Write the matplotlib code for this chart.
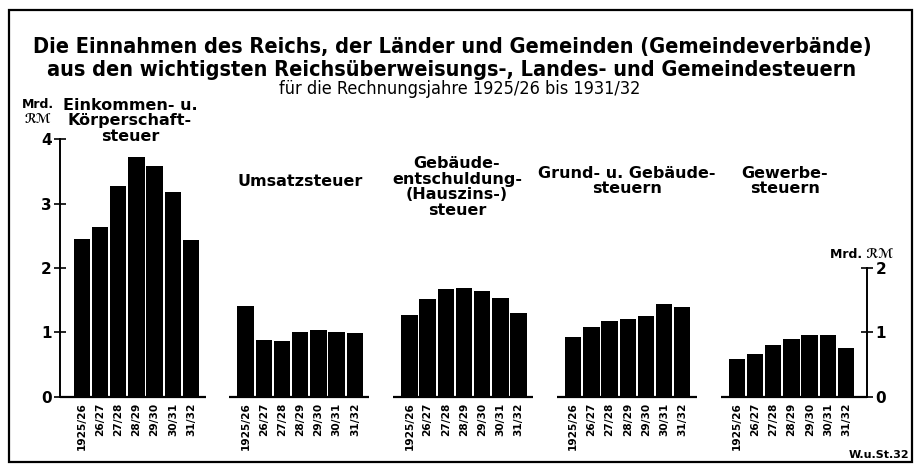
import matplotlib.pyplot as plt
import matplotlib.patches as mpatches
import numpy as np

# data (Mrd. RM)
years = ["1925/26", "26/27", "27/28", "28/29", "29/30", "30/31", "31/32"]
taxes = ["Einkommen- u.\nKörperschaft-\nsteuer", "Umsatzsteuer",
         "Gebäude-\nentschuldung-\n(Hauszins-)\nsteuer", "Grund- u. Gebäude-\nsteuern",
         "Gewerbe-\nsteuern"]
einkommen = [2.45, 2.63, 3.27, 3.72, 3.59, 3.18, 2.43]
umsatz = [1.41, 0.88, 0.87, 1.00, 1.03, 1.00, 0.99]
hauszins = [1.27, 1.52, 1.67, 1.69, 1.65, 1.54, 1.30]
grund = [0.93, 1.08, 1.17, 1.20, 1.25, 1.44, 1.40]
gewerbe = [0.58, 0.66, 0.81, 0.90, 0.96, 0.96, 0.75]
series = [einkommen, umsatz, hauszins, grund, gewerbe]

plt.rcParams['font.family'] = ['DejaVu Sans']
W, H = 919, 466
fig = plt.figure(figsize=(W / 100, H / 100), dpi=100)

# outer frame
fig.patches.append(mpatches.Rectangle((9 / W, 1 - 462 / H), 903 / W, 452 / H, transform=fig.transFigure,
                                      fill=False, lw=1.6, ec="black"))

fig.text(452 / W, 1 - 47 / H, "Die Einnahmen des Reichs, der Länder und Gemeinden (Gemeindeverbände)",
         ha="center", va="center", fontsize=15.6, fontweight="bold", fontstretch="condensed")
fig.text(452 / W, 1 - 70 / H, "aus den wichtigsten Reichsüberweisungs-, Landes- und Gemeindesteuern",
         ha="center", va="center", fontsize=15.6, fontweight="bold", fontstretch="condensed")
fig.text(460 / W, 1 - 89 / H, "für die Rechnungsjahre 1925/26 bis 1931/32",
         ha="center", va="center", fontsize=13, fontstretch="condensed")

ax = fig.add_axes([60 / W, 1 - 396.7 / H, 807 / W, (396.7 - 139.3) / H])
gp = 9  # group pitch in bar units
for g, vals in enumerate(series):
    x = g * gp + np.arange(len(years))
    ax.bar(x, vals, width=0.9, color="black")
    lo = -1.2 if g == 0 else g * gp - 0.9
    hi = 43.15 if g == len(series) - 1 else g * gp + 6.8
    ax.plot([lo, hi], [0, 0], color="black", lw=1.6, solid_capstyle="butt", clip_on=False)
    for i, yl in enumerate(years):
        ax.text(x[i], -0.09, yl, rotation=90, ha="center", va="top", fontsize=7.6, fontweight="bold")

ax.set_xlim(-1.2, 43.15)
ax.set_ylim(0, 4)
for s in ["top", "right", "bottom"]:
    ax.spines[s].set_visible(False)
ax.spines["left"].set_linewidth(1.4)
ax.set_xticks([])
ax.set_yticks([0, 1, 2, 3, 4])
ax.tick_params(axis="y", direction="inout", length=8, width=1.2, labelsize=11, pad=2)
for lab in ax.get_yticklabels():
    lab.set_fontweight("bold")

ax2 = ax.twinx()
ax2.set_ylim(0, 4)
for s in ["top", "left", "bottom"]:
    ax2.spines[s].set_visible(False)
ax2.spines["right"].set_bounds(0, 2)
ax2.spines["right"].set_linewidth(1.4)
ax2.set_yticks([0, 1, 2])
ax2.tick_params(axis="y", direction="inout", length=8, width=1.2, labelsize=11, pad=2)
for lab in ax2.get_yticklabels():
    lab.set_fontweight("bold")

# group titles
title_pos = [(130, 121), (300, 181), (457, 187), (627, 181), (785, 181)]
for (tx, ty), name in zip(title_pos, taxes):
    fig.text(tx / W, 1 - ty / H, name, ha="center", va="center", fontsize=11.5,
             fontweight="bold", linespacing=1.05)

# units
fig.text(38 / W, 1 - 112 / H, "Mrd.\nℛℳ", ha="center", va="center", fontsize=9,
         fontweight="bold", linespacing=1.2)
fig.text(862 / W, 1 - 254 / H, "Mrd. ℛℳ", ha="center", va="center", fontsize=9, fontweight="bold")
fig.text(909 / W, 1 - 455 / H, "W.u.St.32", ha="right", va="center", fontsize=8, fontweight="bold")

fig.savefig("out.png", dpi=100)
